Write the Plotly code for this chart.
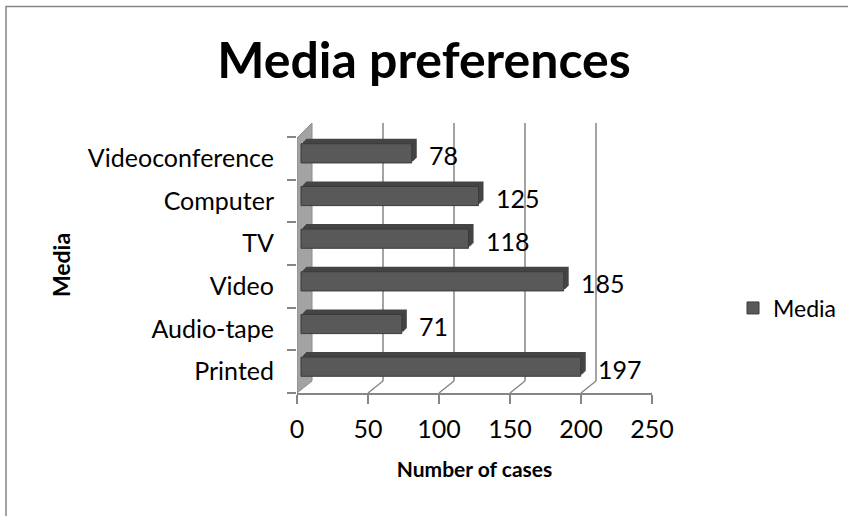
import plotly.graph_objects as go

# ---------------- data ----------------
categories = ["Printed", "Audio-tape", "Video", "TV", "Computer", "Videoconference"]
values = [197, 71, 185, 118, 125, 78]
x_ticks = [0, 50, 100, 150, 200, 250]
series_name = "Media"
chart_title = "Media preferences"
x_title = "Number of cases"
y_title = "Media"

# ---------------- layout geometry ----------------
W, H = 848, 516
L, R, T, B = 297, 196, 137, 123
PW = W - L - R
PH = H - T - B
XMAX = x_ticks[-1]
n = len(categories)
px_x = PW / XMAX
px_cat = PH / n

DEPTH_X, DEPTH_Y = 15, 12      # oblique depth of the 3-D floor / wall
FONT = "Lato, Calibri, sans-serif"
FS = 25
GRID = "#868686"


def xr(shift_px):
    return [-shift_px / px_x, XMAX - shift_px / px_x]


def yr(shift_px):
    return [-0.5 - shift_px / px_cat, n - 0.5 - shift_px / px_cat]


fig = go.Figure()

BAR_W = 0.45
# depth layers (top face + end cap) then the front face, each on a shifted overlay axis
layers = [(9, 10, "#444444", False), (8, 9, "#444444", False), (7, 8, "#444444", False),
          (6, 7, "#444444", False), (4, 5, "#595959", True)]
layout_axes = {}
for i, (sx, sy, col, front) in enumerate(layers):
    k = i + 2
    fig.add_trace(go.Bar(
        x=values, y=categories, orientation="h",
        xaxis=f"x{k}", yaxis=f"y{k}", width=BAR_W,
        name=series_name, showlegend=front,
        marker=dict(color=col, line=dict(color="#3a3a3a", width=1 if front else 0)),
        hoverinfo="x+y" if front else "skip",
    ))
    layout_axes[f"xaxis{k}"] = dict(overlaying="x", anchor=f"y{k}", range=xr(sx), visible=False)
    layout_axes[f"yaxis{k}"] = dict(overlaying="y", anchor=f"x{k}", type="category",
                                    categoryorder="array", categoryarray=categories,
                                    range=yr(sy), visible=False)

shapes = []
# side wall
shapes.append(dict(
    type="path", xref="x", yref="paper", xsizemode="pixel", ysizemode="pixel",
    xanchor=0, yanchor=0,
    path=f"M0,0 L0,{PH - 1} L{DEPTH_X},{PH - 1 + DEPTH_Y + 3} L{DEPTH_X},{DEPTH_Y} Z",
    fillcolor="#a3a3a3", line=dict(color="#8a8a8a", width=1), layer="below"))
# back-wall gridlines and floor diagonals
for t in x_ticks[1:]:
    shapes.append(dict(type="line", xref="x", yref="paper", xsizemode="pixel", ysizemode="pixel",
                       xanchor=t, yanchor=0, x0=DEPTH_X, x1=DEPTH_X, y0=DEPTH_Y, y1=PH - 1 + DEPTH_Y + 3,
                       line=dict(color=GRID, width=1.5), layer="below"))
    shapes.append(dict(type="line", xref="x", yref="paper", xsizemode="pixel", ysizemode="pixel",
                       xanchor=t, yanchor=0, x0=0, x1=DEPTH_X, y0=0, y1=DEPTH_Y,
                       line=dict(color=GRID, width=1.5), layer="below"))
# chart border
shapes.append(dict(type="rect", xref="paper", yref="paper",
                   x0=(6 - L) / PW, x1=(W + 5 - L) / PW,
                   y0=(PH + T - (H + 5)) / PH, y1=(PH + T - 6.5) / PH,
                   line=dict(color=GRID, width=1.5), fillcolor="rgba(0,0,0,0)", layer="below"))

annotations = []
for c, v in zip(categories, values):
    annotations.append(dict(x=v, y=c, xref="x", yref="y", text=str(v), showarrow=False,
                            xanchor="left", yanchor="middle", xshift=19, yshift=3,
                            font=dict(family=FONT, size=FS, color="black")))

fig.update_layout(
    width=W, height=H, margin=dict(l=L, r=R, t=T, b=B, pad=0, autoexpand=False),
    paper_bgcolor="white", plot_bgcolor="white",
    font=dict(family=FONT, size=FS, color="black"),
    title=dict(text=f"<b>{chart_title}</b>", x=0.5, xref="container", xanchor="center",
               y=1 - 60 / H, yref="container", yanchor="middle",
               font=dict(family=FONT, size=50, color="black")),
    xaxis=dict(range=[0, XMAX], tickvals=x_ticks, showgrid=False, zeroline=False,
               showline=True, linecolor=GRID, linewidth=1.5,
               ticks="outside", ticklen=9, tickcolor=GRID, tickwidth=1.5,
               ticklabelstandoff=4, automargin=False,
               title=dict(text=f"<b>{x_title}</b>", standoff=21, font=dict(size=21))),
    yaxis=dict(type="category", categoryorder="array", categoryarray=categories,
               range=[-0.5, n - 0.5], showgrid=False, zeroline=False, showline=False,
               ticks="outside", tickson="boundaries", ticklen=9, tickcolor=GRID, tickwidth=1.5,
               ticklabelstandoff=22, automargin=False,
               title=dict(text=f"<b>{y_title}</b>", standoff=10, font=dict(size=23))),
    legend=dict(x=(733 - L) / PW, xanchor="left", y=(PH + T - 308) / PH, yanchor="middle",
                font=dict(family=FONT, size=23), bgcolor="rgba(0,0,0,0)",
                itemwidth=30),
    shapes=shapes, annotations=annotations, bargap=0.5,
    **layout_axes,
)

fig.write_html("out.html")
